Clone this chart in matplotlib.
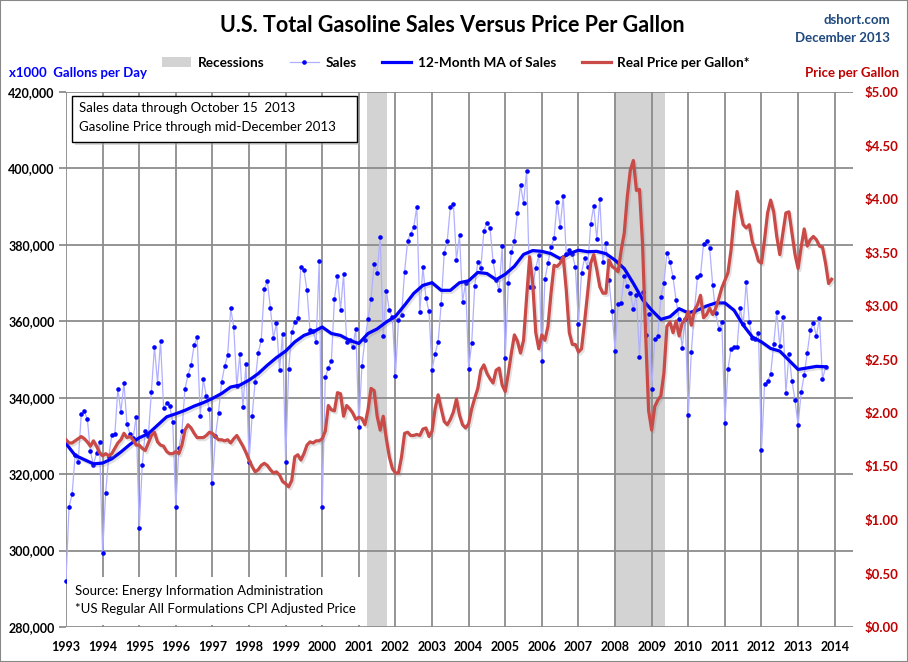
import numpy as np
import matplotlib.pyplot as plt
import matplotlib.patheffects as pe
from matplotlib.patches import Rectangle, Patch
from matplotlib.lines import Line2D
from matplotlib.ticker import FuncFormatter

plt.rcParams['font.family'] = ['Lato', 'DejaVu Sans']

# =====================================================
# Data, monthly from Jan 1993
# =====================================================

START_YEAR = 1993

# gasoline sales, x1000 gallons per day (Jan 1993 .. Oct 2013)
sales = [
    292.1, 311.5, 314.7, 325.0, 323.1, 335.7, 336.5, 334.4, 326.0, 322.4, 325.5, 328.3,  # 1993
    299.3, 315.0, 324.5, 330.2, 330.4, 342.3, 336.3, 343.9, 333.0, 330.5, 329.5, 335.0,  # 1994
    305.9, 322.4, 331.3, 330.0, 341.5, 353.3, 343.9, 354.8, 337.3, 338.5, 337.8, 333.6,  # 1995
    311.3, 326.8, 331.3, 342.3, 346.0, 348.5, 353.8, 355.8, 335.2, 344.9, 340.4, 337.0,  # 1996
    317.7, 330.0, 336.0, 344.0, 348.2, 351.2, 363.4, 358.4, 343.0, 351.4, 337.6, 348.8,  # 1997
    323.3, 335.1, 344.1, 351.7, 355.0, 368.5, 370.5, 363.5, 355.6, 359.6, 347.2, 356.7,  # 1998
    323.3, 347.4, 357.1, 359.8, 360.9, 374.2, 373.4, 368.1, 357.6, 357.4, 354.5, 375.8,  # 1999
    311.3, 345.3, 347.9, 349.6, 365.8, 371.9, 363.0, 372.3, 354.5, 355.0, 353.2, 358.0,  # 2000
    332.3, 348.3, 355.1, 360.6, 365.8, 375.0, 372.7, 382.1, 356.2, 368.0, 362.9, 361.0,  # 2001
    345.7, 360.4, 361.7, 372.9, 381.1, 382.9, 384.6, 390.0, 362.4, 374.2, 366.1, 362.6,  # 2002
    347.3, 351.5, 354.6, 364.6, 377.9, 381.1, 390.0, 390.7, 376.1, 382.6, 365.1, 370.1,  # 2003
    347.5, 354.3, 369.3, 375.5, 374.0, 383.7, 385.8, 384.4, 375.8, 370.8, 368.2, 379.7,  # 2004
    350.3, 370.1, 378.1, 381.1, 388.4, 395.7, 391.0, 399.4, 369.0, 369.0, 374.0, 377.3,  # 2005
    349.6, 371.0, 375.3, 379.5, 381.7, 391.3, 384.6, 392.8, 377.6, 378.6, 377.5, 374.1,  # 2006
    359.2, 372.7, 376.5, 374.1, 385.4, 390.2, 381.5, 392.0, 375.5, 380.4, 370.7, 362.6,  # 2007
    352.2, 364.6, 364.8, 371.8, 369.3, 367.3, 363.2, 366.9, 350.7, 367.6, 356.3, 361.9,  # 2008
    342.3, 355.3, 356.2, 366.4, 369.9, 377.9, 375.6, 371.5, 365.5, 360.6, 353.0, 360.5,  # 2009
    335.4, 352.0, 362.6, 371.6, 372.0, 380.3, 381.1, 379.2, 369.5, 362.2, 358.0, 359.7,  # 2010
    333.3, 347.4, 352.7, 353.2, 353.2, 363.5, 359.2, 370.3, 359.7, 355.6, 355.3, 357.0,  # 2011
    326.2, 343.5, 344.4, 346.1, 354.0, 362.4, 353.5, 361.2, 341.3, 351.4, 344.4, 339.3,  # 2012
    332.8, 341.4, 346.0, 351.7, 357.7, 359.5, 356.1, 360.9, 344.8, 348.0,                # 2013
]

# 12-month MA of sales, read every quarter (Jan, Apr, Jul, Oct)
sales_ma_quarterly = [
    328.0, 324.9, 323.8, 322.7,  # 1993
    322.9, 324.0, 325.8, 327.8,  # 1994
    329.5, 330.6, 332.8, 335.0,  # 1995
    335.8, 336.7, 337.8, 338.7,  # 1996
    339.8, 341.1, 342.8, 343.3,  # 1997
    344.6, 346.3, 348.5, 350.5,  # 1998
    352.2, 354.6, 356.3, 357.2,  # 1999
    358.5, 356.8, 356.3, 355.0,  # 2000
    354.2, 356.8, 358.0, 359.8,  # 2001
    361.3, 364.2, 367.3, 369.4,  # 2002
    370.1, 368.1, 368.1, 370.1,  # 2003
    370.6, 372.8, 372.5, 370.9,  # 2004
    372.3, 374.4, 377.5, 378.5,  # 2005
    378.3, 377.7, 376.4, 377.7,  # 2006
    378.6, 378.2, 378.3, 377.7,  # 2007
    376.0, 373.8, 369.9, 365.7,  # 2008
    362.9, 360.5, 361.2, 363.3,  # 2009
    362.2, 362.9, 364.0, 364.8,  # 2010
    364.8, 362.9, 359.0, 355.9,  # 2011
    354.6, 352.9, 352.2, 349.8,  # 2012
    347.4, 347.8, 348.2, 348.1,  # 2013
]

# real price per gallon, $ (Jan 1993 .. Dec 2013)
price = [
    1.75, 1.72, 1.72, 1.74, 1.76, 1.78, 1.76, 1.73, 1.69, 1.74, 1.69, 1.63,  # 1993
    1.60, 1.62, 1.60, 1.62, 1.67, 1.72, 1.75, 1.81, 1.77, 1.78, 1.75, 1.70,  # 1994
    1.70, 1.67, 1.65, 1.72, 1.79, 1.82, 1.73, 1.70, 1.69, 1.64, 1.62, 1.62,  # 1995
    1.64, 1.62, 1.70, 1.84, 1.89, 1.86, 1.81, 1.77, 1.77, 1.77, 1.79, 1.82,  # 1996
    1.81, 1.78, 1.75, 1.75, 1.74, 1.75, 1.72, 1.76, 1.79, 1.74, 1.69, 1.63,  # 1997
    1.56, 1.50, 1.45, 1.47, 1.51, 1.53, 1.51, 1.47, 1.44, 1.45, 1.42, 1.36,  # 1998
    1.34, 1.31, 1.37, 1.59, 1.61, 1.56, 1.62, 1.70, 1.73, 1.72, 1.74, 1.74,  # 1999
    1.76, 1.83, 2.07, 2.03, 2.02, 2.19, 2.18, 1.97, 2.07, 2.04, 2.00, 1.94,  # 2000
    1.96, 1.95, 1.89, 2.03, 2.23, 2.21, 1.97, 1.84, 1.97, 1.76, 1.59, 1.48,  # 2001
    1.44, 1.44, 1.59, 1.81, 1.82, 1.79, 1.79, 1.80, 1.79, 1.85, 1.86, 1.78,  # 2002
    1.83, 2.04, 2.17, 2.04, 1.92, 1.89, 1.94, 2.01, 2.13, 1.98, 1.89, 1.86,  # 2003
    1.90, 2.04, 2.14, 2.23, 2.40, 2.45, 2.37, 2.32, 2.28, 2.40, 2.42, 2.26,  # 2004
    2.20, 2.37, 2.56, 2.73, 2.67, 2.56, 2.68, 3.08, 3.46, 3.21, 2.75, 2.60,  # 2005
    2.73, 2.68, 2.81, 3.12, 3.38, 3.37, 3.40, 3.46, 3.15, 2.75, 2.64, 2.64,  # 2006
    2.57, 2.60, 2.85, 3.12, 3.40, 3.48, 3.34, 3.18, 3.12, 3.12, 3.43, 3.37,  # 2007
    3.35, 3.32, 3.52, 3.68, 4.02, 4.27, 4.36, 4.08, 4.09, 3.58, 2.75, 2.02,  # 2008
    1.84, 2.06, 2.12, 2.16, 2.37, 2.81, 2.85, 2.75, 2.86, 2.72, 2.84, 2.87,  # 2009
    2.95, 2.82, 2.96, 3.01, 3.10, 2.89, 2.92, 2.98, 2.92, 2.98, 3.07, 3.17,  # 2010
    3.24, 3.31, 3.52, 3.82, 4.07, 3.90, 3.76, 3.73, 3.76, 3.60, 3.52, 3.42,  # 2011
    3.40, 3.62, 3.87, 3.99, 3.88, 3.65, 3.48, 3.68, 3.87, 3.88, 3.68, 3.48,  # 2012
    3.35, 3.55, 3.72, 3.56, 3.62, 3.65, 3.62, 3.56, 3.55, 3.40, 3.21, 3.25,  # 2013
]

recessions = [(2001.21, 2001.78), (2007.96, 2009.37)]

year_ticks = list(range(1993, 2015))
sales_ticks = list(range(280000, 420001, 20000))
price_ticks = [i * 0.5 for i in range(11)]

W, H = 908, 662


def fx(px):
    return px / W


def fy(py):
    return 1 - py / H


# =====================================================
# Plot
# =====================================================

def main():

    t_sales = START_YEAR + np.arange(len(sales)) / 12
    t_ma = START_YEAR + np.arange(len(sales_ma_quarterly)) * 3 / 12
    t_price = START_YEAR + np.arange(len(price)) / 12

    sales_k = np.array(sales) * 1000
    ma_k = np.array(sales_ma_quarterly) * 1000

    fig = plt.figure(figsize=(W / 100, H / 100), dpi=100)
    ax = fig.add_axes([fx(66), fy(627), fx(853) - fx(66), fy(92) - fy(627)])
    ax2 = ax.twinx()

    grid_c = '#8c8c8c'

    for a, b in recessions:
        ax.axvspan(a, b, color='#d3d3d3', lw=0, zorder=0.2)

    ax.set_axisbelow(True)
    ax.grid(True, color=grid_c, lw=1.3)

    shadow = [pe.SimpleLineShadow(offset=(1.2, -1.5), shadow_color='#777777', alpha=0.22),
              pe.Normal()]

    ax.plot(t_sales, sales_k, color='#b0b0ff', lw=0.9, zorder=3)
    ax.plot(t_sales, sales_k, 'o', color='#0000ff', ms=3.3, mec='none', zorder=4,
            clip_on=False)
    ax.plot(t_ma, ma_k, color='#0000ff', lw=2.3, zorder=5, path_effects=shadow)
    ax2.plot(t_price, price, color='#c94a46', lw=2.3, zorder=5, path_effects=shadow)

    ax.set_xlim(1993, 2014.5)
    ax.set_ylim(280000, 420000)
    ax2.set_ylim(0, 5)

    ax.set_xticks(year_ticks)
    ax.set_yticks(sales_ticks)
    ax2.set_yticks(price_ticks)
    ax.yaxis.set_major_formatter(FuncFormatter(lambda v, p: f'{v:,.0f}'))
    ax2.yaxis.set_major_formatter(FuncFormatter(lambda v, p: f'${v:.2f}'))

    for a in (ax, ax2):
        for s in a.spines.values():
            s.set_visible(False)

    ax.tick_params(axis='x', length=0, pad=10, labelsize=9)
    ax.tick_params(axis='y', length=5, color=grid_c, width=1.3, pad=3, labelsize=9)
    ax2.tick_params(axis='y', length=0, pad=8, labelsize=9.5, labelcolor='#c00000')
    for lab in ax.get_xticklabels() + ax.get_yticklabels() + ax2.get_yticklabels():
        lab.set_fontweight('bold')

    # text boxes
    fig.patches.append(Rectangle((fx(75), fy(145)), fx(285), fy(96) - fy(142),
                                 transform=fig.transFigure, facecolor='#aaaaaa',
                                 edgecolor='none', alpha=0.45, zorder=5))
    fig.patches.append(Rectangle((fx(72), fy(142)), fx(285), fy(96) - fy(142),
                                 transform=fig.transFigure, facecolor='white',
                                 edgecolor='black', lw=1, zorder=6))
    fig.text(fx(79), fy(108), 'Sales data through October 15  2013',
             va='center', size=9.5, zorder=7)
    fig.text(fx(79), fy(127), 'Gasoline Price through mid-December 2013',
             va='center', size=9.5, zorder=7)

    fig.patches.append(Rectangle((fx(67), fy(625)), fx(296), fy(577) - fy(625),
                                 transform=fig.transFigure, facecolor='white',
                                 edgecolor='none', zorder=6))
    fig.text(fx(75), fy(591), 'Source: Energy Information Administration',
             va='center', size=9.5, zorder=7)
    fig.text(fx(75), fy(609), '*US Regular All Formulations CPI Adjusted Price',
             va='center', size=9.5, zorder=7)

    # titles and labels
    fig.text(fx(452), fy(25), 'U.S. Total Gasoline Sales Versus Price Per Gallon',
             ha='center', va='center', size=15.5, weight='bold',
             family=['Liberation Sans Narrow', 'Lato', 'DejaVu Sans'])
    fig.text(fx(890), fy(20), 'dshort.com', ha='right', va='center',
             size=9.5, weight='bold', color='#1f497d')
    fig.text(fx(890), fy(38), 'December 2013', ha='right', va='center',
             size=9.5, weight='bold', color='#1f497d')
    fig.text(fx(9), fy(73), 'x1000  Gallons per Day', ha='left', va='center',
             size=9.5, weight='bold', color='#0000ff')
    fig.text(fx(899), fy(73), 'Price per Gallon', ha='right', va='center',
             size=9.5, weight='bold', color='#c00000')

    handles = [
        Patch(facecolor='#d3d3d3', edgecolor='none'),
        Line2D([], [], color='#b0b0ff', lw=0.9, marker='o', ms=3.3,
               mfc='#0000ff', mec='none'),
        Line2D([], [], color='#0000ff', lw=2.3),
        Line2D([], [], color='#c94a46', lw=2.3),
    ]
    labels = ['Recessions', 'Sales', '12-Month MA of Sales', 'Real Price per Gallon*']
    fig.legend(handles, labels, loc='center', bbox_to_anchor=(fx(456), fy(63)),
               ncol=4, frameon=False, prop={'weight': 'bold', 'size': 9.8},
               handlelength=2.1, handletextpad=0.5, columnspacing=1.9)

    # outer border
    fig.patches.append(Rectangle((0, 0), 1, 1, transform=fig.transFigure,
                                 fill=False, edgecolor='#888888', lw=1.5, zorder=10))

    fig.savefig('out.png', dpi=100)


if __name__ == "__main__":
    main()
